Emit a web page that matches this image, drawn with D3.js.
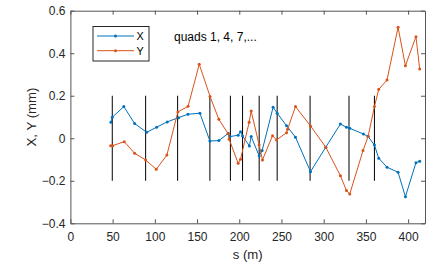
<!DOCTYPE html>
<html>
<head>
<meta charset="utf-8">
<script src="https://cdn.jsdelivr.net/npm/d3@7"></script>
<style>
  body { margin: 0; background: #fff; }
  text { font-family: "Liberation Sans", Arial, sans-serif; }
</style>
</head>
<body>
<div id="chart"></div>
<script>
// orbit readings at BPMs (s in m, value in mm)
let sX = [48.0, 49.6, 63.3, 76.1, 90.3, 102.1, 114.7, 128.2, 139.2, 153.4,
          165.2, 175.9, 186.9, 188.9, 198.7, 201.5, 203.9, 212.0, 214.1, 223.6,
          227.1, 240.1, 244.9, 256.0, 266.6, 284.4, 302.5, 319.8, 327.0, 330.9,
          347.1, 352.6, 360.1, 365.2, 375.0, 388.1, 396.8, 409.3, 413.7];
let valX = [0.075, 0.099, 0.149, 0.069, 0.028, 0.052, 0.077, 0.097, 0.113, 0.118,
            -0.013, -0.011, 0.023, 0.008, 0.014, 0.031, 0.011, -0.036, 0.008, -0.083,
            -0.058, 0.146, 0.118, 0.059, 0.005, -0.157, -0.042, 0.067, 0.052, 0.047,
            0.020, 0.008, -0.032, -0.094, -0.136, -0.160, -0.275, -0.115, -0.108];
let sY = [47.7, 50.0, 63.8, 76.1, 89.1, 101.7, 114.3, 127.3, 139.4, 152.6,
          165.4, 175.8, 186.9, 188.1, 198.7, 201.5, 211.7, 214.1, 223.6, 227.5,
          239.4, 244.1, 256.0, 257.2, 266.6, 284.4, 302.5, 319.8, 327.0, 330.9,
          346.6, 352.6, 360.1, 365.2, 375.0, 388.1, 396.8, 409.3, 413.7];
let valY = [-0.035, -0.035, -0.016, -0.071, -0.102, -0.146, -0.079, 0.124, 0.150, 0.348,
            0.197, 0.089, 0.021, -0.005, -0.118, -0.099, 0.075, 0.128, -0.032, -0.102,
            0.012, -0.008, 0.026, 0.042, 0.149, 0.058, -0.042, -0.176, -0.246, -0.262,
            -0.058, 0.008, 0.149, 0.230, 0.274, 0.522, 0.341, 0.478, 0.326];
// quadrupole positions 1, 4, 7, ...
let quads = [49.6, 89.1, 127.0, 165.2, 189.5, 203.9, 223.6, 244.9, 283.9, 330.0, 360.1];
let xTicks = [0, 50, 100, 150, 200, 250, 300, 350, 400];
let yTicks = [-0.4, -0.2, 0, 0.2, 0.4, 0.6];

let width = 443, height = 266;
let mLeft = 70.4, mRight = 425, mTop = 10.7, mBottom = 223.3;
let axisColor = '#262626';
let blue = '#0072BD', orange = '#D95319';

let svg = d3.select('#chart')
    .append('svg')
    .attr('width', width)
    .attr('height', height);

let x = d3.scaleLinear().domain([0, 420]).range([mLeft, mRight]);
let y = d3.scaleLinear().domain([-0.4, 0.6]).range([mBottom, mTop]);

// axes, MATLAB style: ticks inside, box on
svg.append('g')
    .attr('transform', 'translate(0,' + mBottom + ')')
    .call(d3.axisBottom(x).tickValues(xTicks).tickSizeInner(-4).tickSizeOuter(0).tickPadding(9.5))
    .call(style);
svg.append('g')
    .attr('transform', 'translate(0,' + mTop + ')')
    .call(d3.axisTop(x).tickValues(xTicks).tickSizeInner(-4).tickSizeOuter(0).tickFormat(''))
    .call(style);
svg.append('g')
    .attr('transform', 'translate(' + mLeft + ',0)')
    .call(d3.axisLeft(y).tickValues(yTicks).tickSizeInner(-4).tickSizeOuter(0).tickPadding(5).tickFormat(d => d === 0 ? '0' : d3.format('.1f')(d)))
    .call(style);
svg.append('g')
    .attr('transform', 'translate(' + mRight + ',0)')
    .call(d3.axisRight(y).tickValues(yTicks).tickSizeInner(-4).tickSizeOuter(0).tickFormat(''))
    .call(style);

function style(g)
{
    g.select('.domain').attr('stroke', '#555').attr('stroke-width', 1);
    g.selectAll('.tick line').attr('stroke', '#555');
    g.selectAll('.tick text')
        .attr('fill', axisColor)
        .style('font-size', '12px')
        .style('font-family', '"Liberation Sans", Arial, sans-serif');
}

// quad markers
svg.append('g').selectAll('line')
    .data(quads)
    .join('line')
    .attr('x1', d => x(d)).attr('x2', d => x(d))
    .attr('y1', y(0.2)).attr('y2', y(-0.2))
    .attr('stroke', '#000')
    .attr('stroke-width', 1);

let line = d3.line().x(d => x(d[0])).y(d => y(d[1]));

function series(s, v, color)
{
    let pts = s.map((d, i) => [d, v[i]]);
    svg.append('path')
        .datum(pts)
        .attr('d', line)
        .attr('fill', 'none')
        .attr('stroke', color)
        .attr('stroke-width', 1);
    svg.append('g').selectAll('circle')
        .data(pts)
        .join('circle')
        .attr('cx', d => x(d[0]))
        .attr('cy', d => y(d[1]))
        .attr('r', 1.5)
        .attr('fill', color);
}
series(sX, valX, blue);
series(sY, valY, orange);

// legend
let lg = svg.append('g');
lg.append('rect')
    .attr('x', 93).attr('y', 26.5)
    .attr('width', 56).attr('height', 34.5)
    .attr('fill', '#fff')
    .attr('stroke', axisColor)
    .attr('stroke-width', 1);
[['X', blue, 36], ['Y', orange, 50.7]].forEach(function (d)
{
    lg.append('line')
        .attr('x1', 97).attr('x2', 134)
        .attr('y1', d[2]).attr('y2', d[2])
        .attr('stroke', d[1]);
    lg.append('circle')
        .attr('cx', 115.5).attr('cy', d[2]).attr('r', 1.5)
        .attr('fill', d[1]);
    lg.append('text')
        .attr('x', 136.5).attr('y', d[2] + 4.3)
        .attr('font-size', '10.8px')
        .attr('fill', '#000')
        .text(d[0]);
});

svg.append('text')
    .attr('x', 174).attr('y', 41)
    .attr('font-size', '12px')
    .attr('fill', '#000')
    .text('quads 1, 4, 7,...');

// axis labels
svg.append('text')
    .attr('x', (mLeft + mRight) / 2).attr('y', 258.5)
    .attr('text-anchor', 'middle')
    .attr('font-size', '13.2px')
    .attr('fill', axisColor)
    .text('s (m)');
svg.append('text')
    .attr('transform', 'translate(36,' + (mTop + mBottom) / 2 + ') rotate(-90)')
    .attr('text-anchor', 'middle')
    .attr('font-size', '13.2px')
    .attr('fill', axisColor)
    .text('X, Y (mm)');
</script>
</body>
</html>
